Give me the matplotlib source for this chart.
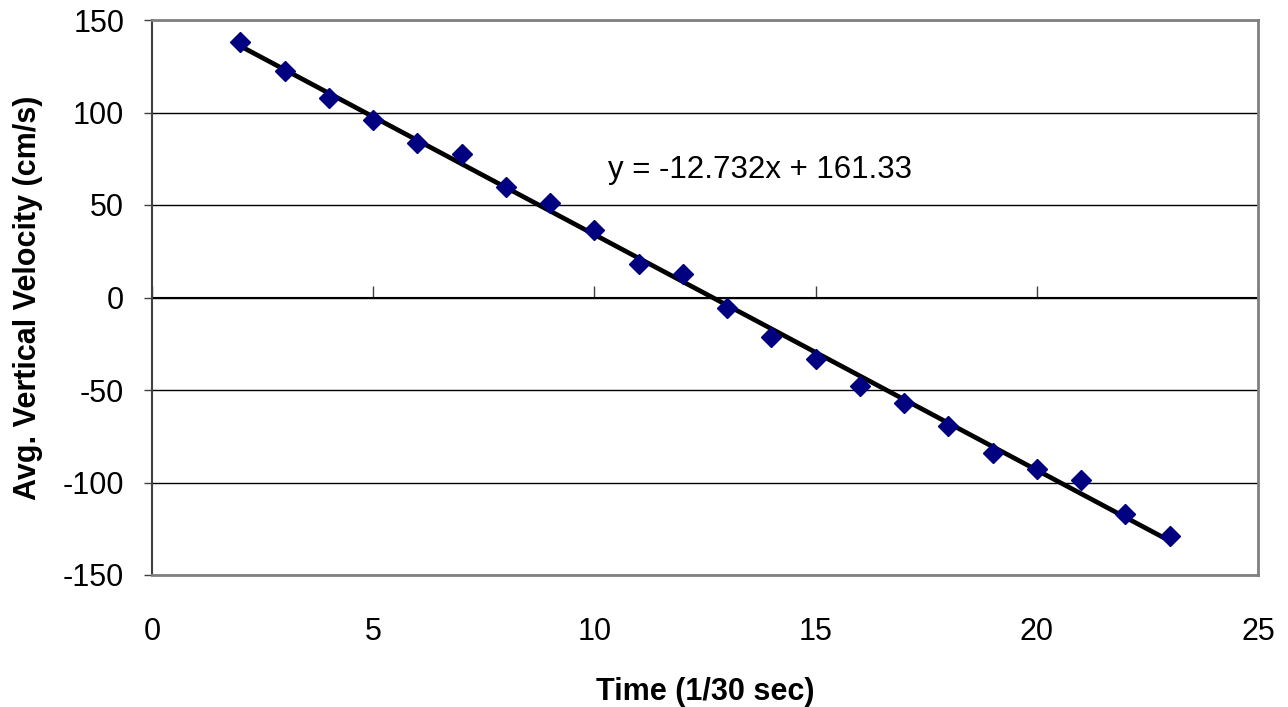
import matplotlib
matplotlib.use("Agg")
import matplotlib.pyplot as plt
import numpy as np

# Data
time = [2, 3, 4, 5, 6, 7, 8, 9, 10, 11, 12, 13, 14, 15, 16, 17, 18, 19, 20, 21, 22, 23]
velocity = [137.9, 122.7, 107.9, 95.7, 83.6, 77.7, 59.7, 51.1, 36.3, 18.0, 12.6,
            -5.9, -21.2, -33.3, -47.9, -57.2, -69.3, -83.9, -92.8, -98.6, -116.9, -128.8]
trend_slope = -12.732
trend_intercept = 161.33
equation_label = "y = -12.732x + 161.33"
x_ticks = [0, 5, 10, 15, 20, 25]
y_ticks = [-150, -100, -50, 0, 50, 100, 150]
x_label = "Time (1/30 sec)"
y_label = "Avg. Vertical Velocity (cm/s)"

plt.rcParams['font.family'] = ['Liberation Sans', 'DejaVu Sans']
plt.rcParams['axes.unicode_minus'] = False

fig = plt.figure(figsize=(12.88, 7.07), dpi=100)
ax = fig.add_axes([152/1288, 1 - 575/707, (1258-152)/1288, (575-20)/707])

ax.set_xlim(0, 25)
ax.set_ylim(-150, 150)

# gridlines
ax.set_yticks(y_ticks)
ax.yaxis.grid(True, color='black', linewidth=1.0)
ax.set_axisbelow(True)

# trendline
tx = np.array([time[0], time[-1]], dtype=float)
ax.plot(tx, trend_slope * tx + trend_intercept, color='black', linewidth=3.4, zorder=3,
        solid_capstyle='butt')

# data points
ax.plot(time, velocity, linestyle='none', marker='D', markersize=10.5,
        color='#000080', markeredgecolor='#000080', zorder=4)

ax.text(10.3, 69, equation_label, fontsize=22.5, va='center', ha='left')

# spines
for s in ['top', 'bottom', 'right']:
    ax.spines[s].set_color('#808080')
    ax.spines[s].set_linewidth(2.0)
ax.spines['left'].set_color('#404040')
ax.spines['left'].set_linewidth(1.5)

ax.tick_params(axis='y', direction='out', length=6, width=1, color='#404040',
               labelsize=22, pad=14)
ax.set_xticks(x_ticks)
ax.tick_params(axis='x', length=0, labelsize=22, pad=30)

# x-axis tick marks on zero line (Excel style)
sec = ax.secondary_xaxis(0.5)
sec.set_xticks(x_ticks)
sec.tick_params(axis='x', direction='out', length=8, width=1, color='#404040', labelbottom=False)
sec.spines['bottom'].set_visible(False)
sec.set_xticklabels([])

ax.set_xlabel(x_label, fontsize=22, fontweight='bold', labelpad=22)
ax.set_ylabel(y_label, fontsize=22, fontweight='bold', labelpad=14)

fig.savefig("out.png", dpi=100)
